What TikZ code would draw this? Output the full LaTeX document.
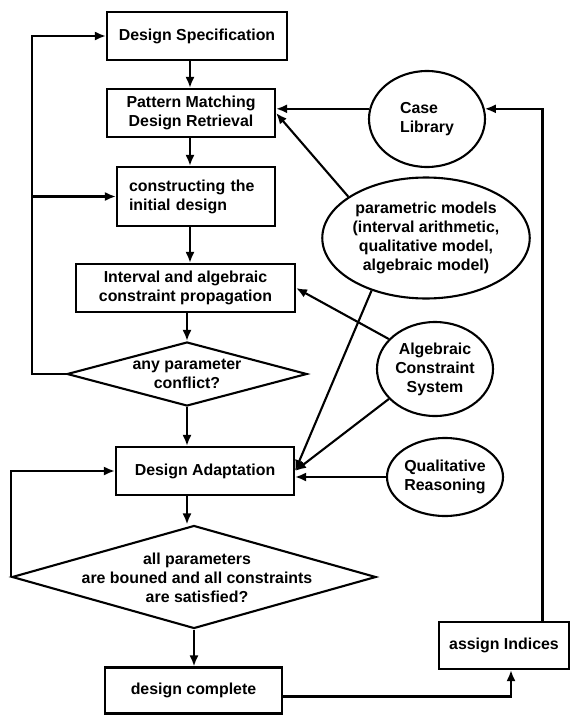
\documentclass[tikz,border=0pt]{standalone}
\usepackage{fontspec}
\setmainfont{Liberation Sans}
\usetikzlibrary{arrows.meta,shapes.geometric,calc}

\begin{document}
\begin{tikzpicture}[x=1pt,y=-1pt,
font=\fontsize{15.9}{19}\selectfont\bfseries,
block/.style={draw, line width=2.1pt, rectangle, minimum height=48pt, inner sep=0pt, align=center},
decision/.style={draw, line width=2.1pt, diamond, inner sep=0pt},
oval/.style={draw, line width=2.1pt, ellipse, inner sep=0pt, align=center},
flow/.style={line width=2.1pt, -{Latex[length=11pt,width=9pt]}}]
\useasboundingbox (0,0) rectangle (571,715);

\node [block, minimum width=180pt] (ds) at (197,36) {Design Specification};
\node [block, minimum width=168pt] (pm) at (191,113) {Pattern Matching\\Design Retrieval};
\node [block, minimum width=158pt, minimum height=59pt, text width=134pt, align=left,
inner xsep=12pt] (init) at (196,196.5) {constructing the\\initial design};
\node [block, minimum width=219pt] (prop) at (185.5,288) {Interval and algebraic\\constraint propagation};
\node [decision, minimum width=240pt, minimum height=64pt] (conflict) at (187,374) {};
\node [align=center] (conflicttext) at (conflict) {any parameter\\conflict?};
\node [block, minimum width=178pt] (adapt) at (205,471) {Design Adaptation};
\node [decision, minimum width=364pt, minimum height=103pt] (satisfied) at (194,577) {};
\node [align=center] (satisfiedtext) at (197,578) {all parameters\\are bouned and all constraints\\are satisfied?};
\node [block, minimum width=177pt, minimum height=46pt] (done) at (193.5,690.5) {design complete};
\node [block, minimum width=130pt, minimum height=47pt] (indices) at (504,645.5) {assign Indices};

\node [oval, align=left, minimum width=116pt, minimum height=96pt] (caselib) at (427,119) {Case\\Library};
\node [oval, minimum width=198pt, minimum height=121pt] (models) at (426,238)
{parametric models\\(interval arithmetic,\\qualitative model,\\algebraic model)};
\node [oval, minimum width=116pt, minimum height=94pt] (acs) at (435,369) {Algebraic\\Constraint\\System};
\node [oval, minimum width=116pt, minimum height=78pt] (qual) at (445,477) {Qualitative\\Reasoning};

\coordinate (spine) at (190,0);
\draw [flow] (spine |- ds.south) -- (spine |- pm.north);
\draw [flow] (spine |- pm.south) -- (spine |- init.north);
\draw [flow] (spine |- init.south) -- (spine |- prop.north);
\draw [flow] (conflict.north |- prop.south) -- (conflict.north);
\draw [flow] (conflict.south) -- (conflict.south |- adapt.north);
\draw [flow] (conflict.south |- adapt.south) -- (conflict.south |- satisfied.north);
\draw [flow] (satisfied.south) -- (satisfied.south |- done.north);

\coordinate (back) at ($(conflict.west)+(-34,0)$);
\draw [flow] (conflict.west) -- (back) |- (ds.west);
\draw [flow] (back |- init.west) -- (init.west);
\draw [flow] (satisfied.west) |- (adapt.west);

\draw [flow] ([yshift=-6pt]done.east) -| ([xshift=7pt]indices.south);
\draw [flow] ([xshift=38.5pt]indices.north) |- (caselib.10);
\draw [flow] (caselib.170) -- (caselib.170 -| pm.east);
\draw [flow] (models.152) -- (pm.east);
\draw [flow] (models.224) -- (adapt.east);
\draw [flow] (acs.147) -- (prop.east);
\draw [flow] (acs.213) -- (adapt.east);
\draw [flow] (qual.west) -- (qual.west -| adapt.east);
\end{tikzpicture}
\end{document}
